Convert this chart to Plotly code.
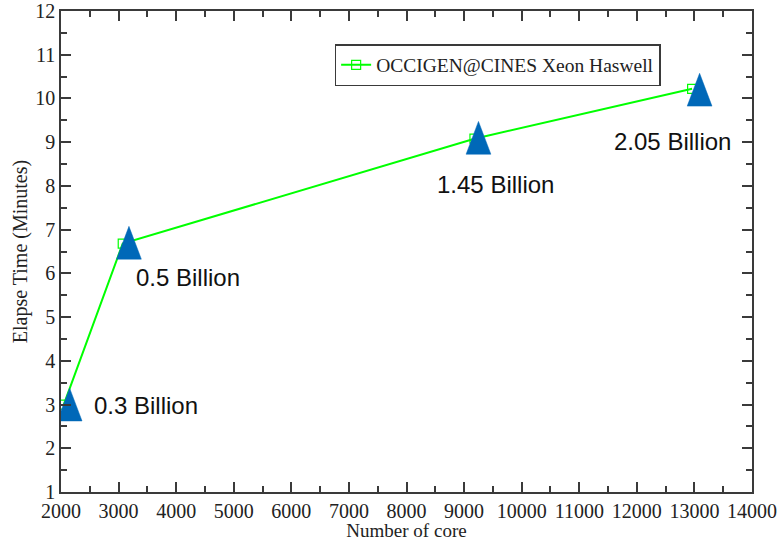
import plotly.graph_objects as go

# Data
cores = [2048, 3072, 9180, 12960]
elapse_minutes = [3.0, 6.68, 9.08, 10.22]
series_name = "OCCIGEN@CINES Xeon Haswell"

tri_cores = [2150, 3180, 9250, 13090]
tri_minutes = [3.0, 6.7, 9.1, 10.2]
labels = ["0.3 Billion", "0.5 Billion", "1.45 Billion", "2.05 Billion"]
label_x = [2540, 3270, 8490, 11560]
label_y = [2.98, 5.9, 8.03, 9.02]

x_ticks = list(range(2000, 14001, 1000))
x_ticktext = [str(v) for v in x_ticks]
y_ticks = list(range(1, 13))
y_ticktext = [str(v) for v in y_ticks]

# geometry of triangle glyphs in data units (half-width in cores, height in minutes)
half_w = 215
tri_h = 0.75

tx, ty = [], []
for xv, yv in zip(tri_cores, tri_minutes):
    tx += [xv - half_w, xv + half_w, xv, xv - half_w, None]
    ty += [yv - tri_h * 0.5, yv - tri_h * 0.5, yv + tri_h * 0.5, yv - tri_h * 0.5, None]

fig = go.Figure()
fig.add_trace(go.Scatter(
    x=cores, y=elapse_minutes, mode="lines+markers", name=series_name,
    line=dict(color="#00ff00", width=2),
    marker=dict(symbol="square-open", size=9, color="#00ff00", line=dict(width=1.2)),
))
fig.add_trace(go.Scatter(
    x=tx, y=ty, mode="lines", fill="toself", fillcolor="#0068b8",
    line=dict(color="#0068b8", width=0.5), showlegend=False, hoverinfo="skip",
))

for t, xv, yv in zip(labels, label_x, label_y):
    fig.add_annotation(x=xv, y=yv, text=t, showarrow=False, xanchor="left", yanchor="middle",
                       font=dict(family="Liberation Sans, Arial", size=24, color="#111"))

serif = "Liberation Serif, Times New Roman"
axis_common = dict(
    showgrid=False, zeroline=False, showline=True, linecolor="#3a3a3a", linewidth=1.5,
    mirror="ticks", ticks="inside", tickcolor="#3a3a3a", tickwidth=1.5, ticklen=10,
    tickfont=dict(family=serif, size=20, color="#222"), automargin=False,
    ticklabeloverflow="allow",
)

fig.update_xaxes(range=[2000, 14000], tickvals=x_ticks, ticktext=x_ticktext,
                 minor=dict(ticks="inside", dtick=500, ticklen=6, tickcolor="#3a3a3a", tickwidth=1.5),
                 title=dict(text="Number of core", standoff=0,
                            font=dict(family=serif, size=19, color="#222")),
                 **axis_common)
fig.update_yaxes(range=[1, 12], tickvals=y_ticks, ticktext=y_ticktext,
                 minor=dict(ticks="inside", dtick=0.5, ticklen=6, tickcolor="#3a3a3a", tickwidth=1.5),
                 title=dict(text="Elapse Time (Minutes)", standoff=2,
                            font=dict(family=serif, size=20, color="#222")),
                 **axis_common)

fig.update_layout(
    width=779, height=541,
    margin=dict(l=61, r=27, t=11, b=49),
    plot_bgcolor="white", paper_bgcolor="white",
    legend=dict(x=0.396, y=0.931, xanchor="left", yanchor="top",
                bordercolor="#3a3a3a", borderwidth=1.5, bgcolor="white",
                itemwidth=30,
                font=dict(family=serif, size=19.5, color="#222")),
)

# remove the default 8px body margin of the page
fig.write_html("out.html", config={"displayModeBar": False},
               post_script="document.body.style.margin='0';")
